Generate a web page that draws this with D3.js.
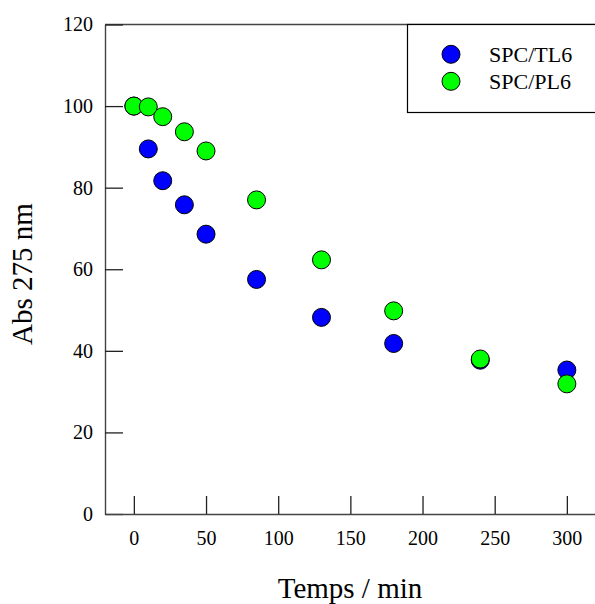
<!DOCTYPE html>
<html>
<head>
<meta charset="utf-8">
<script src="https://cdn.jsdelivr.net/npm/d3@7"></script>
<style>
  body { margin: 0; background: #fff; }
  svg text { font-family: "Liberation Serif", "Times New Roman", serif; fill: #000; }
</style>
</head>
<body>
<div id="chart"></div>
<script>
// Time points (min) and absorbance at 275 nm for each catalyst
const times = [0, 10, 20, 35, 50, 85, 130, 180, 240, 300];
const spcTL6 = [100, 89.5, 81.7, 75.8, 68.6, 57.5, 48.2, 41.8, 37.7, 35.3];
const spcPL6 = [100, 99.8, 97.4, 93.7, 89.0, 77.0, 62.3, 49.8, 38.0, 31.9];
const seriesNames = ["SPC/TL6", "SPC/PL6"];
const seriesColors = ["#0000ff", "#00ff00"];
const xTicks = [0, 50, 100, 150, 200, 250, 300];
const yTicks = [0, 20, 40, 60, 80, 100, 120];

const width = 595, height = 604;
const plot = { left: 105, right: 595, top: 24.5, bottom: 514 };
const serif = "'Liberation Serif', 'Times New Roman', serif";

const svg = d3.select("#chart").append("svg")
    .attr("width", width)
    .attr("height", height);

const x = d3.scaleLinear().domain([-20, 319.5]).range([plot.left, plot.right]);
const y = d3.scaleLinear().domain([0, 120]).range([plot.bottom, plot.top]);

// Top frame line (no right frame in the original)
svg.append("line")
    .attr("x1", plot.left).attr("x2", plot.right)
    .attr("y1", plot.top).attr("y2", plot.top)
    .attr("stroke", "#444").attr("stroke-width", 1.4);

// Y axis with inward ticks
const yAxis = svg.append("g")
    .attr("transform", `translate(${plot.left},0)`)
    .call(d3.axisLeft(y).tickValues(yTicks).tickSizeInner(-18).tickSizeOuter(0).tickPadding(12));

// X axis with inward ticks
const xAxis = svg.append("g")
    .attr("transform", `translate(0,${plot.bottom})`)
    .call(d3.axisBottom(x).tickValues(xTicks).tickSizeInner(-18).tickSizeOuter(0).tickPadding(17));

[yAxis, xAxis].forEach(g => {
    g.select(".domain").attr("stroke", "#444").attr("stroke-width", 1.4);
    g.selectAll(".tick line").attr("stroke", "#222").attr("stroke-width", 1.3);
    g.selectAll(".tick text")
        .style("font-size", "20px")
        .style("font-family", serif);
});

// Axis titles
svg.append("text")
    .attr("x", 350).attr("y", 598)
    .attr("text-anchor", "middle")
    .style("font-size", "29px")
    .style("font-family", serif)
    .text("Temps / min");

svg.append("text")
    .attr("transform", "translate(32,274) rotate(-90)")
    .attr("text-anchor", "middle")
    .style("font-size", "29px")
    .style("font-family", serif)
    .text("Abs 275 nm");

// Points: SPC/TL6 drawn first so SPC/PL6 lies on top
const series = [spcTL6, spcPL6];
series.forEach((vals, i) => {
    svg.append("g")
        .selectAll("circle")
        .data(times.map((t, j) => ({ t, v: vals[j] })))
        .join("circle")
        .attr("cx", d => x(d.t))
        .attr("cy", d => y(d.v))
        .attr("r", 9)
        .attr("fill", seriesColors[i])
        .attr("stroke", "#000")
        .attr("stroke-width", 1);
});

// Legend
const legend = svg.append("g");
legend.append("rect")
    .attr("x", 407.5).attr("y", plot.top)
    .attr("width", 200).attr("height", 88)
    .attr("fill", "#fff")
    .attr("stroke", "#000").attr("stroke-width", 1.2);

seriesNames.forEach((name, i) => {
    const cy = 54.3 + i * 27;
    legend.append("circle")
        .attr("cx", 451).attr("cy", cy).attr("r", 9)
        .attr("fill", seriesColors[i])
        .attr("stroke", "#000").attr("stroke-width", 1);
    legend.append("text")
        .attr("x", 489).attr("y", cy + 8)
        .style("font-size", "22px")
        .style("font-family", serif)
        .text(name);
});
</script>
</body>
</html>
